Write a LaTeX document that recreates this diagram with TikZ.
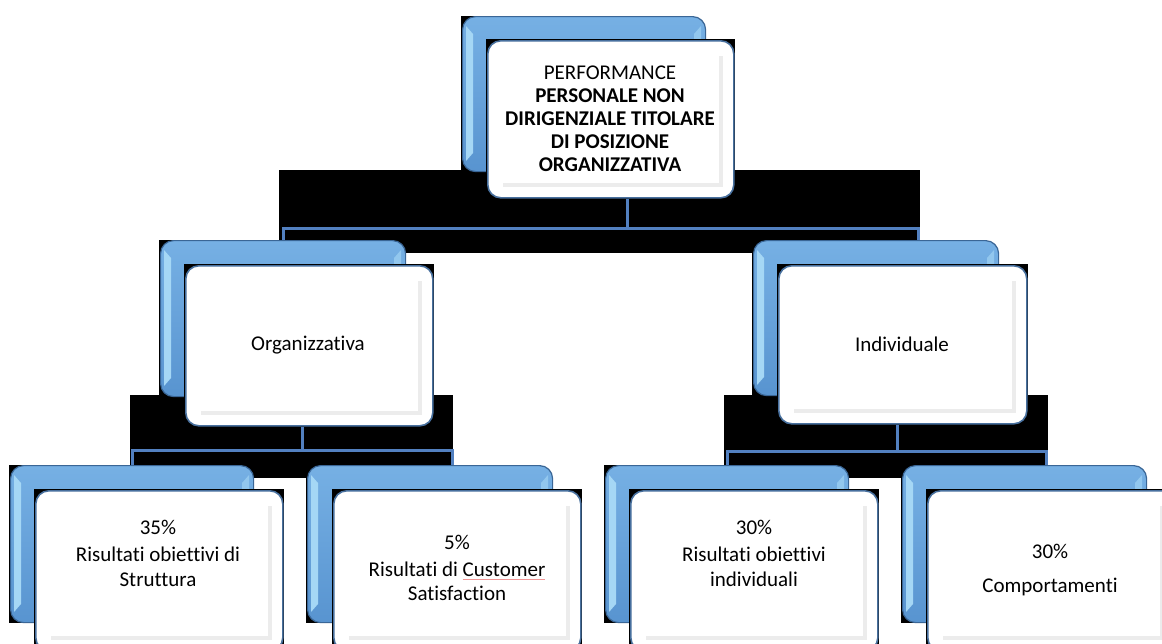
\documentclass[tikz,border=0pt]{standalone}
\usepackage{fontspec}
\setmainfont{Carlito}[Ligatures=NoCommon]
\usetikzlibrary{calc}
\definecolor{blueA}{RGB}{118,176,228}
\definecolor{blueB}{RGB}{88,148,208}
\definecolor{blueEdge}{RGB}{58,102,150}
\definecolor{blueLight}{RGB}{165,215,245}
\definecolor{whiteEdge}{RGB}{72,112,158}
\definecolor{connCol}{RGB}{82,128,192}
\definecolor{bevelGray}{RGB}{236,236,236}
\definecolor{spellRed}{RGB}{240,150,150}
\newcommand\redul[1]{{\setbox0\hbox{#1}\rlap{\textcolor{spellRed}{\raisebox{-4pt}{\rule{\wd0}{0.7pt}}}}\box0}}
\tikzset{
  bluebox/.style={draw=blueEdge, line width=1.2pt, rounded corners=13pt, top color=blueA, bottom color=blueB, anchor=north west, inner sep=0pt},
  whitebox/.style={draw=whiteEdge, line width=1.6pt, fill=white, rounded corners=13pt, anchor=north west, inner sep=0pt},
  bevel/.style={fill=blueLight},
  innerbevel/.style={draw=bevelGray, line width=3.5pt},
  conn/.style={draw=connCol, line width=3pt},
  lbl/.style={align=center, inner sep=0pt, font=\fontsize{21}{24.5}\selectfont, text=black},
  toplbl/.style={lbl, font=\fontsize{21}{23}\selectfont},
  blackbg/.style={fill=black}
}
\newcommand\mkblue[5]{%
  \fill[blackbg] (#2-1,#3) rectangle (#2+14,#5+1);
  \node[bluebox, minimum width={(#4-#2)*1pt}, minimum height={(#5-#3)*1pt}] (#1) at (#2,#3) {};
  \fill[bevel] (#2+4,#3+10) -- (#2+11,#3+18) -- (#2+11,#5-18) -- (#2+4,#5-10) -- cycle;
  \fill[blueLight!60!blueA] (#4-4,#3+10) -- (#4-11,#3+18) -- (#4-11,#3+26) -- (#4-4,#3+26) -- cycle;
}
\newcommand\mkwhite[5]{%
  \fill[blackbg] (#2-1.5,#3-1.5) rectangle (#4+1.5,#5+1.5);
  \node[whitebox, minimum width={(#4-#2)*1pt}, minimum height={(#5-#3)*1pt}] (#1) at (#2,#3) {};
  \draw[innerbevel] (#4-12,#3+16) -- (#4-12,#5-12) -- (#2+16,#5-12);
}
\begin{document}
\begin{tikzpicture}[x=1pt,y=-1pt]
\useasboundingbox (0,0) rectangle (1162,643);
\clip (0,0) rectangle (1162,643);
\fill[white] (0,0) rectangle (1162,643);
% black background artefacts
\fill[blackbg] (279,170) rectangle (920,253);
\fill[blackbg] (130,395) rectangle (453,478);
\fill[blackbg] (724,395) rectangle (1048,478);
% blue back boxes
\mkblue{topb}{462}{16}{705}{171}
\mkblue{orgb}{160}{240}{405}{396}
\mkblue{indb}{753}{240}{998}{395}
\mkblue{b1}{10}{465}{253}{622}
\mkblue{b2}{307}{465}{552}{622}
\mkblue{b3}{605}{465}{848}{622}
\mkblue{b4}{902}{465}{1146}{622}
% connector junctions
\coordinate (j1) at (627,228);
\coordinate (e1r) at (918,240);
\coordinate (j2) at (302,450);
\coordinate (e2r) at (452,465);
\coordinate (j3) at (897,451);
\coordinate (e3r) at (1046,465);
% white front boxes
\mkwhite{topw}{487}{40}{733}{197}
\mkwhite{orgw}{185}{265}{432}{425}
\mkwhite{indw}{778}{265}{1026}{423}
\mkwhite{w1}{35}{490}{282}{650}
\mkwhite{w2}{333}{490}{580}{650}
\mkwhite{w3}{630}{490}{877}{650}
\mkwhite{w4}{927}{490}{1174}{650}
\draw[conn] (topw.south -| j1) -- (j1);
\draw[conn] (orgb.north) |- (j1) -| (e1r);
\draw[conn] (orgw.south -| j2) -- (j2);
\draw[conn] (b1.north) |- (j2) -| (e2r);
\draw[conn] (indw.south -| j3) -- (j3);
\draw[conn] (b3.north) |- (j3) -| (e3r);
% texts
\node[toplbl] (ttop) at (610,119) {PERFORMANCE\\\textbf{PERSONALE NON}\\\textbf{DIRIGENZIALE TITOLARE}\\\textbf{DI POSIZIONE}\\\textbf{ORGANIZZATIVA}};
\node[lbl] (torg) at (308,345) {Organizzativa};
\node[lbl] (tind) at (902,344) {Individuale};
\node[lbl] (t1) at (158,553) {35\%\\[3pt]Risultati obiettivi di\\Struttura};
\node[lbl] (t2) at (457,568) {5\%\\[2pt]Risultati di \redul{Customer}\\Satisfaction};
\node[lbl] (t3) at (754,553) {30\%\\[3pt]Risultati obiettivi\\individuali};
\node[lbl] (t4) at (1050,570) {30\%\\[9pt]Comportamenti};
\end{tikzpicture}
\end{document}
